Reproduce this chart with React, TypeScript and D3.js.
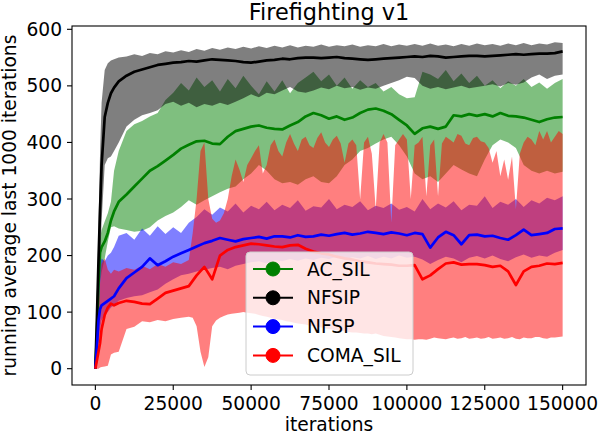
import React from 'react';
import * as d3 from 'd3';

// sample points (training iterations)
const iters = [
  0, 500, 1000, 1500, 2000, 3000, 4000, 5000, 6000, 7500,
  10000, 12500, 15000, 17500, 20000, 22500, 25000, 27500, 30000, 32500,
  35000, 37500, 40000, 42500, 45000, 47500, 50000, 52500, 55000, 57500,
  60000, 62500, 65000, 67500, 70000, 72500, 75000, 77500, 80000, 82500,
  85000, 87500, 90000, 92500, 95000, 97500, 100000, 102500, 105000, 107500,
  110000, 112500, 115000, 117500, 120000, 122500, 125000, 127500, 130000, 132500,
  135000, 137500, 140000, 142500, 145000, 147500, 150000,
];

// AC_SIL
const acSilMean = [
  0, 60, 150, 205, 215, 225, 240, 262, 278, 295,
  308, 322, 336, 350, 358, 368, 378, 389, 396, 402,
  403, 398, 397, 410, 420, 424, 428, 430, 426, 424,
  423, 430, 436, 446, 452, 448, 442, 446, 440, 444,
  452, 458, 460, 456, 450, 440, 430, 415, 425, 428,
  424, 428, 448, 446, 450, 447, 450, 446, 452, 447,
  446, 444, 440, 436, 441, 444, 445,
];
const acSilHigh = [
  0, 80, 170, 230, 245, 260, 275, 295, 350, 385,
  420, 432, 438, 446, 452, 475, 488, 505, 492, 515,
  498, 510, 490, 512, 496, 518, 500, 485, 508, 490,
  510, 487, 505, 515, 525, 508, 520, 500, 515, 495,
  510, 498, 505, 490, 498, 485, 478, 480, 525, 520,
  512, 528, 508, 522, 505, 518, 500, 510, 496, 508,
  500, 512, 498, 506, 495, 505, 512,
];
const acSilLow = [
  0, 30, 100, 150, 170, 195, 225, 250, 252, 248,
  245, 242, 244, 250, 262, 270, 276, 286, 298, 290,
  298, 305, 312, 318, 322, 335, 345, 360, 350, 335,
  328, 330, 325, 335, 340, 330, 328, 340, 360, 370,
  385, 390, 398, 405, 410, 395, 375, 345, 335, 340,
  330, 345, 360, 352, 345, 340, 370, 395, 405, 400,
  390, 360, 350, 345, 350, 345, 348,
];

// NFSIP
const nfsipMean = [
  0, 90, 190, 280, 360, 445, 470, 487, 497, 508,
  518, 525, 529, 533, 537, 539, 541, 542, 544, 543,
  545, 547, 546, 545, 544, 542, 541, 543, 545, 546,
  548, 547, 549, 550, 550, 549, 550, 551, 549, 548,
  547, 546, 547, 548, 549, 550, 551, 552, 551, 553,
  552, 550, 551, 552, 553, 553, 552, 553, 554, 555,
  556, 555, 556, 557, 557, 558, 561,
];
const nfsipHigh = [
  0, 120, 250, 380, 470, 528, 540, 545, 547, 550,
  552, 556, 553, 558, 556, 561, 559, 563, 560, 565,
  562, 567, 564, 568, 565, 569, 566, 570, 567, 571,
  568, 572, 568, 571, 569, 573, 569, 572, 570, 573,
  569, 572, 570, 574, 570, 573, 571, 574, 571, 575,
  571, 573, 570, 574, 571, 575, 572, 574, 571, 575,
  572, 576, 572, 575, 573, 577, 576,
];
const nfsipLow = [
  0, 40, 120, 190, 260, 360, 372, 375, 385, 400,
  428, 440, 448, 452, 457, 468, 472, 465, 470, 462,
  468, 465, 470, 466, 472, 478, 485, 480, 488, 485,
  492, 498, 490, 488, 492, 497, 494, 500, 496, 498,
  493, 497, 495, 500, 505, 510, 516, 514, 500, 495,
  498, 494, 497, 500, 496, 498, 500, 503, 499, 505,
  502, 506, 515, 520, 512, 518, 520,
];

// NFSP
const nfspMean = [
  0, 40, 85, 105, 112, 116, 120, 124, 128, 142,
  160, 170, 180, 195, 183, 190, 198, 204, 210, 216,
  222, 226, 231, 228, 225, 229, 231, 233, 230, 234,
  234, 232, 236, 233, 234, 237, 235, 238, 240, 237,
  239, 242, 240, 238, 241, 239, 236, 240, 238, 214,
  232, 242, 236, 220, 236, 237, 234, 235, 231, 228,
  236, 246, 236, 238, 240, 247, 248,
];
const nfspHigh = [
  0, 100, 160, 185, 195, 190, 200, 205, 215, 235,
  240, 228, 248, 235, 252, 238, 250, 240, 258, 268,
  282, 272, 285, 278, 292, 276, 288, 282, 295, 280,
  290, 284, 298, 279, 287, 285, 300, 282, 290, 286,
  296, 280, 288, 284, 292, 281, 286, 278, 300, 282,
  292, 285, 296, 280, 290, 288, 305, 284, 295, 290,
  300, 286, 298, 292, 302, 298, 305,
];
const nfspLow = [
  0, 10, 40, 70, 85, 95, 100, 108, 112, 120,
  125, 128, 130, 135, 140, 150, 158, 165, 168, 172,
  175, 178, 180, 176, 182, 185, 188, 190, 186, 192,
  190, 194, 191, 195, 192, 196, 194, 198, 193, 197,
  195, 199, 194, 198, 195, 200, 196, 198, 193, 185,
  192, 198, 195, 188, 196, 199, 195, 200, 194, 190,
  197, 202, 196, 200, 198, 205, 210,
];

// COMA_SIL
const comaMean = [
  0, 15, 30, 45, 70, 95, 108, 115, 112, 116,
  120, 118, 115, 114, 124, 134, 138, 142, 146, 165,
  180, 158, 200, 210, 215, 218, 221, 220, 218, 216,
  215, 218, 219, 212, 207, 204, 202, 198, 195, 193,
  190, 188, 186, 185, 184, 182, 182, 183, 158, 165,
  176, 186, 188, 184, 185, 185, 183, 180, 182, 172,
  148, 172, 180, 182, 186, 185, 187,
];

// COMA_SIL band is read on a finer grid (its upper edge has narrow dips)
const comaBandIters = [
  0, 500, 1000, 1500, 2000, 3000, 4000, 5000, 6000, 7500,
  10000, 12500, 15000, 17500, 20000, 22500, 25000, 27500, 30000, 31250,
  32500, 33750, 35000, 36250, 37500, 38750, 40000, 41250, 42500, 43750,
  45000, 46250, 47500, 48750, 50000, 51250, 52500, 53750, 55000, 56250,
  57500, 58750, 60000, 61250, 62500, 63750, 65000, 66250, 67500, 68750,
  70000, 71250, 72500, 73750, 75000, 76250, 77500, 78750, 80000, 81250,
  82500, 83750, 85000, 86250, 87500, 88750, 90000, 91250, 92500, 93750,
  95000, 96250, 97500, 98750, 100000, 101250, 102500, 103750, 105000, 106250,
  107500, 108750, 110000, 111250, 112500, 113750, 115000, 116250, 117500, 118750,
  120000, 121250, 122500, 123750, 125000, 126250, 127500, 128750, 130000, 131250,
  132500, 133750, 135000, 136250, 137500, 138750, 140000, 141250, 142500, 143750,
  145000, 146250, 147500, 148750, 150000,
];
const comaHigh = [
  0, 60, 110, 150, 185, 195, 175, 168, 175, 172,
  178, 175, 182, 176, 185, 180, 188, 185, 192, 240,
  300, 385, 400, 300, 265, 258, 262, 275, 300, 340,
  370, 352, 330, 360, 372, 385, 395, 345, 360, 395,
  405, 385, 375, 400, 415, 398, 385, 405, 410, 395,
  390, 408, 418, 400, 392, 405, 412, 398, 364, 398,
  405, 395, 299, 400, 410, 380, 282, 400, 415, 400,
  258, 395, 405, 415, 405, 300, 395, 400, 410, 305,
  395, 405, 305, 398, 410, 405, 400, 415, 412, 398,
  395, 408, 410, 402, 400, 390, 364, 385, 340, 370,
  334, 375, 282, 380, 400, 410, 405, 395, 420, 405,
  420, 400, 410, 420, 415,
];
const comaLow = [
  0, 0, 0, 2, 3, 4, 5, 25, 28, 30,
  70, 74, 84, 82, 86, 84, 88, 90, 92, 90,
  75, 30, 3, 20, 75, 85, 90, 93, 96, 97,
  98, 99, 100, 99, 98, 97, 95, 93, 92, 90,
  88, 87, 86, 84, 83, 81, 80, 79, 78, 76,
  75, 74, 73, 71, 70, 69, 68, 67, 66, 65,
  64, 64, 63, 62, 62, 61, 62, 60, 58, 57,
  56, 55, 54, 53, 52, 52, 51, 52, 52, 51,
  53, 55, 54, 53, 52, 54, 55, 53, 54, 56,
  53, 54, 55, 53, 54, 56, 53, 54, 55, 53,
  54, 56, 53, 52, 55, 54, 54, 56, 56, 54,
  53, 55, 55, 56, 57,
];

const seriesNames = ['AC_SIL', 'NFSIP', 'NFSP', 'COMA_SIL'];
const seriesColors = ['#008000', '#000000', '#0000ff', '#ff0000'];

const xTicks = [0, 25000, 50000, 75000, 100000, 125000, 150000];
const yTicks = [0, 100, 200, 300, 400, 500, 600];

const W = 598;
const H = 434;
const L = 72, T = 26, R = 586, B = 385;
const FONT = 'DejaVu Sans, sans-serif';

type Series = {
  name: string; color: string; mean: number[];
  bandX: number[]; low: number[]; high: number[];
};

export default function App() {
  const series: Series[] = [
    { name: seriesNames[0], color: seriesColors[0], mean: acSilMean, bandX: iters, low: acSilLow, high: acSilHigh },
    { name: seriesNames[1], color: seriesColors[1], mean: nfsipMean, bandX: iters, low: nfsipLow, high: nfsipHigh },
    { name: seriesNames[2], color: seriesColors[2], mean: nfspMean, bandX: iters, low: nfspLow, high: nfspHigh },
    { name: seriesNames[3], color: seriesColors[3], mean: comaMean, bandX: comaBandIters, low: comaLow, high: comaHigh },
  ];

  const xMin = d3.min(iters)!, xMax = d3.max(iters)!;
  const xPad = (xMax - xMin) * 0.05;
  const x = d3.scaleLinear().domain([xMin - xPad, xMax + xPad]).range([L, R]);

  const yMin = d3.min(series, s => d3.min(s.low))!;
  const yMax = d3.max(series, s => d3.max(s.high))!;
  const yPad = (yMax - yMin) * 0.05;
  const y = d3.scaleLinear().domain([yMin - yPad, yMax + yPad]).range([B, T]);

  const band = (s: Series) =>
    d3.area<number>()
      .x(i => x(s.bandX[i]))
      .y0(i => y(s.low[i]))
      .y1(i => y(s.high[i]))(s.bandX.map((_, i) => i)) || '';
  const line = (s: Series) =>
    d3.line<number>()
      .x(i => x(iters[i]))
      .y(i => y(s.mean[i]))(iters.map((_, i) => i)) || '';

  const legendY = (i: number) => 269 + i * 28.8;

  return (
    <svg width={W} height={H} style={{ position: 'absolute', left: 0, top: 0, background: '#fff' }} fontFamily={FONT}>
      <defs>
        <clipPath id="plot">
          <rect x={L} y={T} width={R - L} height={B - T} />
        </clipPath>
      </defs>
      <rect width={W} height={H} fill="#fff" />
      <g clipPath="url(#plot)">
        {series.map(s => (
          <path key={s.name + 'b'} d={band(s)} fill={s.color} fillOpacity={0.5} stroke="none" />
        ))}
        {series.map(s => (
          <path key={s.name + 'l'} d={line(s)} fill="none" stroke={s.color} strokeWidth={2.7} strokeLinejoin="round" />
        ))}
      </g>
      <rect x={L} y={T} width={R - L} height={B - T} fill="none" stroke="#000" strokeWidth={1.1} />
      {xTicks.map(t => (
        <g key={'x' + t}>
          <line x1={x(t)} x2={x(t)} y1={B} y2={B + 5} stroke="#000" strokeWidth={1.1} />
          <text x={x(t)} y={B + 25} textAnchor="middle" fontSize={18.67} fill="#000">{t}</text>
        </g>
      ))}
      {yTicks.map(t => (
        <g key={'y' + t}>
          <line x1={L - 5} x2={L} y1={y(t)} y2={y(t)} stroke="#000" strokeWidth={1.1} />
          <text x={L - 10} y={y(t)} dy="0.35em" textAnchor="end" fontSize={18.67} fill="#000">{t}</text>
        </g>
      ))}
      <text x={(L + R) / 2} y={431} textAnchor="middle" fontSize={18.67} fill="#000">iterations</text>
      <text transform={`translate(16,${(T + B) / 2}) rotate(-90)`} textAnchor="middle" fontSize={18.67} fill="#000">
        running average last 1000 iterations
      </text>
      <text x={(L + R) / 2} y={20} textAnchor="middle" fontSize={22.4} fill="#000">Firefighting v1</text>

      <g>
        <rect x={246} y={252} width={167} height={123} rx={4} fill="#fff" fillOpacity={0.8} stroke="#cccccc" strokeWidth={1} />
        {series.map((s, i) => (
          <g key={s.name + 'g'}>
            <line x1={253} x2={293} y1={legendY(i)} y2={legendY(i)} stroke={s.color} strokeWidth={2} />
            <circle cx={273} cy={legendY(i)} r={7} fill={s.color} stroke={s.color} />
            <text x={307} y={legendY(i)} dy="0.35em" fontSize={18.67} fill="#000">{s.name}</text>
          </g>
        ))}
      </g>
    </svg>
  );
}
